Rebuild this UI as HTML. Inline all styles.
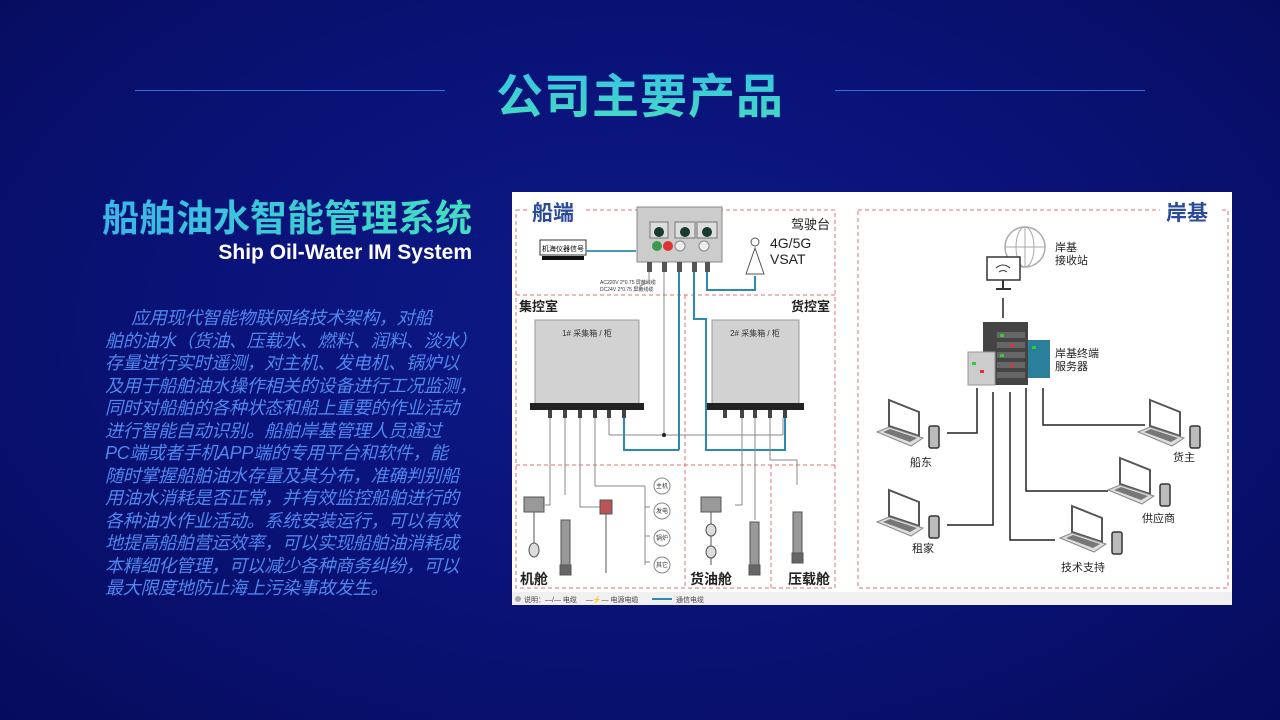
<!DOCTYPE html>
<html><head><meta charset="utf-8">
<style>
*{margin:0;padding:0;box-sizing:border-box}
body{width:1280px;height:720px;overflow:hidden;position:relative;font-family:"Liberation Sans","Noto Sans CJK SC",sans-serif;
background:radial-gradient(ellipse at 50% 45%,#0d1a86 0%,#0a137a 45%,#060c5c 100%);}
.t{position:absolute;white-space:nowrap}
#title{left:0;width:1280px;text-align:center;top:58px;font-size:47px;font-weight:bold;letter-spacing:1px;
background:linear-gradient(180deg,#35c0e8,#45dcc0);-webkit-background-clip:text;color:transparent}
.hl{position:absolute;top:90px;height:1px;background:#3b6fd6}
#h2{right:808px;top:188px;font-size:37px;font-weight:bold;background:linear-gradient(90deg,#38b6ea,#40e0c0);-webkit-background-clip:text;color:transparent}
#sub{right:808px;top:241px;font-size:21px;font-weight:bold;color:#fff}
#para{left:105px;top:307px;font-size:18px;line-height:22.5px;color:#4f86ee;font-style:italic;letter-spacing:-0.3px}
</style></head><body>
<div class="hl" style="left:135px;width:310px"></div>
<div class="hl" style="left:835px;width:310px"></div>
<div class="t" id="title">公司主要产品</div>
<div class="t" id="h2">船舶油水智能管理系统</div>
<div class="t" id="sub">Ship Oil-Water IM System</div>
<div class="t" id="para"><span style="display:inline-block;width:26px"></span>应用现代智能物联网络技术架构，对船<br>舶的油水（货油、压载水、燃料、润料、淡水）<br>存量进行实时遥测，对主机、发电机、锅炉以<br>及用于船舶油水操作相关的设备进行工况监测，<br>同时对船舶的各种状态和船上重要的作业活动<br>进行智能自动识别。船舶岸基管理人员通过<br>PC端或者手机APP端的专用平台和软件，能<br>随时掌握船舶油水存量及其分布，准确判别船<br>用油水消耗是否正常，并有效监控船舶进行的<br>各种油水作业活动。系统安装运行，可以有效<br>地提高船舶营运效率，可以实现船舶油消耗成<br>本精细化管理，可以减少各种商务纠纷，可以<br>最大限度地防止海上污染事故发生。</div>

<svg width="1280" height="720" style="position:absolute;left:0;top:0" font-family="Liberation Sans,Noto Sans CJK SC,sans-serif">
<defs>
<g id="lap">
<polygon points="12,0 42,12 42,36 12,26" fill="#fff" stroke="#555" stroke-width="2"/>
<polygon points="0,32 12,27 46,38 34,46" fill="#ddd" stroke="#888" stroke-width="1"/>
<polygon points="6,32 13,29 40,38 33,42" fill="#777"/>
<rect x="52" y="26" width="10" height="22" rx="2" fill="#bbb" stroke="#333" stroke-width="1.5"/>
</g>
</defs>
<rect x="512" y="192" width="720" height="413" fill="#fff"/>
<rect x="512" y="592" width="720" height="13" fill="#f0f0f0"/>
<g fill="none" stroke="#e07070" stroke-width="1" stroke-dasharray="4,3">
<rect x="516" y="210" width="319" height="378"/>
<rect x="858" y="210" width="370" height="378"/>
<line x1="516" y1="295" x2="835" y2="295"/>
<line x1="685" y1="295" x2="685" y2="588"/>
<line x1="516" y1="465" x2="835" y2="465"/>
<line x1="771" y1="465" x2="771" y2="588"/>
</g>
<rect x="528" y="198" width="56" height="24" fill="#fff"/>
<text x="532" y="220" font-size="21" font-weight="bold" fill="#2b4b9a">船端</text>
<rect x="1160" y="198" width="60" height="24" fill="#fff"/>
<text x="1166" y="220" font-size="21" font-weight="bold" fill="#2b4b9a">岸基</text>
<text x="830" y="229" font-size="13" fill="#222" text-anchor="end">驾驶台</text>
<text x="770" y="248" font-size="14" fill="#222">4G/5G</text>
<text x="770" y="264" font-size="14" fill="#222">VSAT</text>
<polygon points="755,248 746,274 764,274" fill="none" stroke="#555"/>
<circle cx="755" cy="242" r="4" fill="none" stroke="#555"/>
<text x="519" y="311" font-size="13" font-weight="bold" fill="#222">集控室</text>
<text x="830" y="311" font-size="13" font-weight="bold" fill="#222" text-anchor="end">货控室</text>
<rect x="637" y="207" width="85" height="55" fill="#ccc" stroke="#888"/>
<rect x="650" y="222" width="18" height="16" fill="#ddd" stroke="#777"/><circle cx="659" cy="232" r="5" fill="#1a3a30"/>
<rect x="675" y="222" width="20" height="16" fill="#ddd" stroke="#777"/><circle cx="685" cy="232" r="5" fill="#1a3a30"/>
<rect x="697" y="222" width="20" height="16" fill="#ddd" stroke="#777"/><circle cx="707" cy="232" r="5" fill="#1a3a30"/>
<circle cx="657" cy="246" r="5" fill="#3a9a4a"/><circle cx="668" cy="246" r="5" fill="#d33"/><circle cx="680" cy="246" r="5" fill="#eee" stroke="#888"/>
<circle cx="704" cy="246" r="5" fill="#eee" stroke="#888"/>
<rect x="540" y="240" width="46" height="15" fill="#fff" stroke="#333"/>
<text x="563" y="251" font-size="7" text-anchor="middle">机海仪器信号</text>
<rect x="542" y="256" width="42" height="4" fill="#111"/>
<line x1="586" y1="251" x2="636" y2="251" stroke="#4a9ab5" stroke-width="2"/>
<g fill="#555"><rect x="647" y="262" width="5" height="10"/><rect x="662" y="262" width="5" height="10"/><rect x="677" y="262" width="5" height="10"/><rect x="692" y="262" width="5" height="10"/><rect x="705" y="262" width="5" height="10"/></g>
<text x="600" y="284" font-size="5" fill="#333">AC220V 2*0.75 屏蔽线缆</text>
<text x="600" y="291" font-size="5" fill="#333">DC24V 2*0.75 屏蔽线缆</text>
<g stroke="#888" fill="none" stroke-width="1">
<polyline points="649,272 649,282 640,286 640,290"/>
<line x1="664" y1="272" x2="664" y2="435"/>
<line x1="609" y1="435" x2="783" y2="435"/>
</g>
<circle cx="664" cy="435" r="2" fill="#222"/>
<g stroke="#2a8ab0" fill="none" stroke-width="2">
<polyline points="707,272 707,290 755,290 755,276"/>
<line x1="679" y1="272" x2="679" y2="450"/>
<polyline points="624,418 624,450 679,450"/>
<polyline points="694,272 694,319 706,319 706,450 785,450 785,418"/>
</g>
<rect x="535" y="320" width="104" height="85" fill="#d2d2d2" stroke="#999"/>
<rect x="530" y="403" width="114" height="7" fill="#222"/>
<text x="587" y="336" font-size="8" text-anchor="middle" fill="#333">1# 采集箱 / 柜</text>
<rect x="712" y="320" width="87" height="85" fill="#d2d2d2" stroke="#999"/>
<rect x="707" y="403" width="97" height="7" fill="#222"/>
<text x="755" y="336" font-size="8" text-anchor="middle" fill="#333">2# 采集箱 / 柜</text>
<g fill="#444"><rect x="548" y="410" width="4" height="8"/><rect x="563" y="410" width="4" height="8"/><rect x="578" y="410" width="4" height="8"/><rect x="593" y="410" width="4" height="8"/><rect x="607" y="410" width="4" height="8"/><rect x="622" y="410" width="4" height="8"/>
<rect x="723" y="410" width="4" height="8"/><rect x="740" y="410" width="4" height="8"/><rect x="753" y="410" width="4" height="8"/><rect x="768" y="410" width="4" height="8"/><rect x="783" y="410" width="4" height="8"/></g>
<g stroke="#888" fill="none" stroke-width="1">
<polyline points="550,418 550,505 545,505"/>
<line x1="565" y1="418" x2="565" y2="495"/>
<polyline points="580,418 580,507 600,507"/>
<polyline points="595,418 595,486 645,486"/>
<line x1="609" y1="418" x2="609" y2="435"/>
<polyline points="645,486 645,565"/>
<line x1="645" y1="507" x2="650" y2="507"/><line x1="645" y1="536" x2="650" y2="536"/><line x1="645" y1="562" x2="650" y2="562"/>
<polyline points="742,418 742,505 735,505"/>
<line x1="755" y1="418" x2="755" y2="520"/>
<polyline points="770,418 770,460 797,460 797,485"/>
<line x1="783" y1="418" x2="783" y2="435"/>
</g>
<g font-size="6" fill="#333">
<circle cx="662" cy="486" r="8" fill="#fff" stroke="#888"/><text x="662" y="488" text-anchor="middle">主机</text>
<circle cx="662" cy="511" r="8" fill="#fff" stroke="#888"/><text x="662" y="513" text-anchor="middle">发电</text>
<circle cx="662" cy="538" r="8" fill="#fff" stroke="#888"/><text x="662" y="540" text-anchor="middle">锅炉</text>
<circle cx="662" cy="565" r="8" fill="#fff" stroke="#888"/><text x="662" y="567" text-anchor="middle">其它</text>
</g>
<g fill="#999" stroke="#555">
<rect x="524" y="497" width="20" height="15"/><line x1="534" y1="512" x2="534" y2="545"/><ellipse cx="534" cy="550" rx="5" ry="7" fill="#ddd"/>
<rect x="561" y="520" width="9" height="45"/><rect x="560" y="565" width="11" height="10" fill="#666"/>
<rect x="600" y="500" width="12" height="14" fill="#b55"/><line x1="606" y1="514" x2="606" y2="573"/>
<rect x="701" y="497" width="20" height="15"/><line x1="711" y1="512" x2="711" y2="565"/><ellipse cx="711" cy="530" rx="5" ry="6" fill="#ddd"/><ellipse cx="711" cy="552" rx="5" ry="6" fill="#ddd"/>
<rect x="750" y="522" width="9" height="45"/><rect x="749" y="565" width="11" height="10" fill="#666"/>
<rect x="793" y="512" width="9" height="45"/><rect x="792" y="553" width="11" height="10" fill="#666"/>
</g>
<text x="520" y="584" font-size="14" font-weight="bold" fill="#222">机舱</text>
<text x="690" y="584" font-size="14" font-weight="bold" fill="#222">货油舱</text>
<text x="830" y="584" font-size="14" font-weight="bold" fill="#222" text-anchor="end">压载舱</text>
<circle cx="518" cy="599" r="3" fill="#aaa"/>
<text x="524" y="602" font-size="7" fill="#444">说明：—/— 电缆　 —⚡— 电源电缆</text>
<line x1="652" y1="599" x2="672" y2="599" stroke="#2a8ab0" stroke-width="2"/>
<text x="676" y="602" font-size="7" fill="#444">通信电缆</text>
<circle cx="1025" cy="247" r="20" fill="none" stroke="#aaa" stroke-width="1.5"/>
<ellipse cx="1025" cy="247" rx="9" ry="20" fill="none" stroke="#aaa"/>
<line x1="1005" y1="247" x2="1045" y2="247" stroke="#aaa"/><line x1="1025" y1="227" x2="1025" y2="267" stroke="#aaa"/>
<rect x="987" y="257" width="33" height="23" fill="#fff" stroke="#333" stroke-width="1.5"/>
<path d="M996 268 q7-6 14 0 M999 272 q4-3 8 0" stroke="#333" fill="none"/>
<line x1="1003" y1="280" x2="1003" y2="288" stroke="#333" stroke-width="2"/><line x1="996" y1="289" x2="1011" y2="289" stroke="#333" stroke-width="2"/>
<text x="1055" y="251" font-size="11" fill="#222">岸基</text>
<text x="1055" y="264" font-size="11" fill="#222">接收站</text>
<line x1="1003" y1="298" x2="1003" y2="318" stroke="#222" stroke-width="1.5"/>
<rect x="983" y="322" width="45" height="63" fill="#444"/>
<g fill="#666"><rect x="997" y="332" width="28" height="6"/><rect x="997" y="342" width="28" height="6"/><rect x="997" y="352" width="28" height="6"/><rect x="997" y="362" width="28" height="6"/><rect x="997" y="372" width="28" height="6"/></g>
<rect x="1028" y="340" width="22" height="38" fill="#2a7f9a"/>
<rect x="968" y="352" width="27" height="33" fill="#ccc" stroke="#999"/>
<g fill="#3c3"><rect x="1000" y="334" width="4" height="3"/><rect x="1000" y="354" width="4" height="3"/><rect x="1032" y="346" width="4" height="3"/><rect x="972" y="362" width="4" height="3"/></g>
<g fill="#d33"><rect x="1010" y="344" width="4" height="3"/><rect x="1010" y="364" width="4" height="3"/><rect x="980" y="370" width="4" height="3"/></g>
<text x="1055" y="357" font-size="11" fill="#222">岸基终端</text>
<text x="1055" y="370" font-size="11" fill="#222">服务器</text>
<g stroke="#222" fill="none" stroke-width="1.5">
<polyline points="977,388 977,433 947,433"/>
<polyline points="993,392 993,525 947,525"/>
<polyline points="1010,392 1010,540 1055,540"/>
<polyline points="1026,388 1026,491 1108,491"/>
<polyline points="1043,388 1043,425 1145,425"/>
</g>
<use href="#lap" x="877" y="400"/><text x="910" y="466" font-size="11" fill="#222">船东</text>
<use href="#lap" x="877" y="490"/><text x="912" y="552" font-size="11" fill="#222">租家</text>
<use href="#lap" x="1060" y="506"/><text x="1061" y="571" font-size="11" fill="#222">技术支持</text>
<use href="#lap" x="1108" y="458"/><text x="1142" y="522" font-size="11" fill="#222">供应商</text>
<use href="#lap" x="1138" y="400"/><text x="1173" y="461" font-size="11" fill="#222">货主</text>
</svg>
</body></html>
